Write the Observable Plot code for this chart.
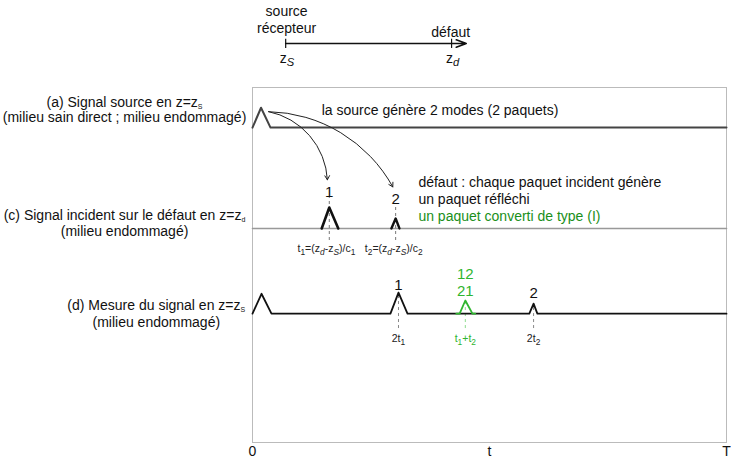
<!DOCTYPE html>
<html><head><meta charset="utf-8">
<script src="https://cdn.jsdelivr.net/npm/d3@7"></script>
<script src="https://cdn.jsdelivr.net/npm/@observablehq/plot@0.6"></script>
<style>body{margin:0;background:#fff} svg{display:block}</style>
</head><body><div id="chart"></div>
<script>
// Time axis: 0..100 stands for 0..T
const timeTicks = [0, 50, 100];
const timeTickLabels = ["0", "t", "T"];

// (a) source signal at z = zS
const srcTimes = [0, 1.8, 3.8, 100];
const srcAmps  = [0, 5.6, 0, 0];

// (c) incident signal at the defect z = zd
const incBaseTimes = [0, 100];
const inc1Times = [14.6, 16.2, 18.1];
const inc1Amps  = [0, 5.9, 0];
const inc2Times = [29.3, 30.2, 31.0];
const inc2Amps  = [0, 2.8, 0];

// (d) measured signal at z = zS
const measTimes = [0, 1.9, 4.0, 29.1, 30.8, 32.7, 58.4, 59.3, 60.1, 100];
const measAmps  = [0, 5.6, 0, 0, 5.9, 0, 0, 2.8, 0, 0];
const convTimes = [43.0, 43.7, 44.9, 46.4, 47.0];
const convAmps  = [0, 0, 3.7, 0, 0];

// characteristic times (arrival of packets)
const incPeakTimes = [16.2, 30.2];
const incPeakNames = ["1", "2"];
const measPeakTimes = [30.8, 59.3];
const measPeakNames = ["1", "2"];
const convPeakTime = 44.9;

// row baselines (vertical layout, in plot units)
const baseA = 88.7, baseC = 60.3, baseD = 36.3;

const pts = (ts, vs, b) => ts.map((t, i) => ({t, v: b + (vs ? vs[i] : 0)}));

const green = "#2fb52f";
const font = "'Liberation Sans', Arial, Helvetica, sans-serif";

const plot = Plot.plot({
  width: 731, height: 461,
  marginLeft: 252, marginRight: 5, marginTop: 87, marginBottom: 19,
  style: {fontFamily: font, fontSize: "14px", background: "#fff", color: "#111"},
  x: {domain: [0, 100], ticks: timeTicks, tickFormat: d => timeTickLabels[timeTicks.indexOf(d)], tickSize: 0, tickPadding: 4, label: null},
  y: {domain: [0, 100], axis: null},
  marks: [
    Plot.frame({stroke: "#bbb"}),
    // top z axis diagram
    Plot.arrow([{x1: 7.0, y1: 112.4, x2: 45.1, y2: 112.4}], {x1: "x1", y1: "y1", x2: "x2", y2: "y2", stroke: "#111", strokeWidth: 1.6, headLength: 10, headAngle: 40}),
    Plot.ruleX([7.0, 42.0], {x: d => d, y1: 111.0, y2: 113.6, stroke: "#111", strokeWidth: 1.2}),
    Plot.text(["source"], {x: 7.2, y: 121.5, text: d => d, fill: "#111"}),
    Plot.text(["récepteur"], {x: 7.2, y: 116.6, text: d => d, fill: "#111"}),
    Plot.text(["défaut"], {x: 41.8, y: 115.5, text: d => d, fill: "#111"}),
    Plot.text(["z_{*S*}"], {x: 7.3, y: 108.3, text: d => d, fill: "#111"}),
    Plot.text(["z_{*d*}"], {x: 42.2, y: 108.3, text: d => d, fill: "#111"}),

    // row (a)
    Plot.line(pts(srcTimes, srcAmps, baseA), {x: "t", y: "v", stroke: "#444", strokeWidth: 2}),
    Plot.text(["la source génère 2 modes (2 paquets)"], {x: 14.6, y: 93.6, text: d => d, textAnchor: "start", fill: "#111"}),
    Plot.arrow([{x1: 3.4, y1: 93.2, x2: 15.8, y2: 74.0}], {x1: "x1", y1: "y1", x2: "x2", y2: "y2", bend: 38, stroke: "#222", strokeWidth: 1, headLength: 7}),
    Plot.arrow([{x1: 3.4, y1: 93.2, x2: 29.6, y2: 72.0}], {x1: "x1", y1: "y1", x2: "x2", y2: "y2", bend: 30, stroke: "#222", strokeWidth: 1, headLength: 7}),

    // row (c)
    Plot.line(pts(incBaseTimes, null, baseC), {x: "t", y: "v", stroke: "#999", strokeWidth: 1.6}),
    Plot.ruleX(incPeakTimes, {x: d => d, y1: 56.9, y2: (d, i) => [69.0, 66.2][i], stroke: "#777", strokeDasharray: "3,3", strokeWidth: 1}),
    Plot.line(pts(inc1Times, inc1Amps, baseC), {x: "t", y: "v", stroke: "#111", strokeWidth: 2.6}),
    Plot.line(pts(inc2Times, inc2Amps, baseC), {x: "t", y: "v", stroke: "#111", strokeWidth: 2.4}),
    Plot.text(incPeakNames, {x: (d, i) => incPeakTimes[i], y: (d, i) => [70.6, 68.4][i], text: d => d, fill: "#111", fontSize: 15}),
    Plot.text(["t_{1}=(z_{*d*}-z_{*S*})/c_{1}", "t_{2}=(z_{*d*}-z_{*S*})/c_{2}"], {x: [15.6, 29.8], y: 54.6, text: d => d, fill: "#222", fontSize: 10.5}),
    Plot.text(["défaut : chaque paquet incident génère"], {x: 35.0, y: 73.2, text: d => d, textAnchor: "start", fill: "#111"}),
    Plot.text(["un paquet réfléchi"], {x: 35.0, y: 68.5, text: d => d, textAnchor: "start", fill: "#111"}),
    Plot.text(["un paquet converti de type (I)"], {x: 35.0, y: 63.7, text: d => d, textAnchor: "start", fill: "#1a8f1a"}),

    // row (d)
    Plot.ruleX(measPeakTimes, {x: d => d, y1: 32.1, y2: (d, i) => [42.3, 38.9][i], stroke: "#888", strokeDasharray: "3,3", strokeWidth: 1}),
    Plot.ruleX([convPeakTime], {x: d => d, y1: 32.1, y2: 40, stroke: "#8fdc8f", strokeDasharray: "3,3", strokeWidth: 1}),
    Plot.line(pts(measTimes, measAmps, baseD), {x: "t", y: "v", stroke: "#111", strokeWidth: 1.8}),
    Plot.line(pts(convTimes, convAmps, baseD), {x: "t", y: "v", stroke: green, strokeWidth: 1.8}),
    Plot.text(measPeakNames, {x: (d, i) => measPeakTimes[i], y: (d, i) => [44.4, 42.0][i], text: d => d, fill: "#111", fontSize: 15}),
    Plot.text(["12"], {x: convPeakTime, y: 47.4, text: d => d, fill: green, fontSize: 15}),
    Plot.text(["21"], {x: convPeakTime, y: 42.6, text: d => d, fill: green, fontSize: 15}),
    Plot.text(["2t_{1}", "2t_{2}"], {x: measPeakTimes, y: 29.3, text: d => d, fill: "#222", fontSize: 10.5}),
    Plot.text(["t_{1}+t_{2}"], {x: convPeakTime, y: 29.3, text: d => d, fill: green, fontSize: 10.5}),

    // row labels
    Plot.text(["(a) Signal source en z=z_{S}"], {x: -27.0, y: 95.8, text: d => d, fill: "#111", className: "subsmall"}),
    Plot.text(["(milieu sain direct ; milieu endommagé)"], {x: -27.0, y: 91.5, text: d => d, fill: "#111"}),
    Plot.text(["(c) Signal incident sur le défaut en z=z_{d}"], {x: -27.0, y: 63.9, text: d => d, fill: "#111", className: "subsmall"}),
    Plot.text(["(milieu endommagé)"], {x: -27.0, y: 59.4, text: d => d, fill: "#111"}),
    Plot.text(["(d) Mesure du signal en z=z_{S}"], {x: -20.3, y: 38.6, text: d => d, fill: "#111", className: "subsmall"}),
    Plot.text(["(milieu endommagé)"], {x: -20.3, y: 33.8, text: d => d, fill: "#111"})
  ]
});

document.getElementById("chart").appendChild(plot);

// turn _{...} into subscripts and *...* into italics
function richify(root) {
  const NS = "http://www.w3.org/2000/svg";
  root.querySelectorAll("text").forEach(t => {
    const s = t.textContent;
    if (!/_\{|\*/.test(s)) return;
    const fs = parseFloat(getComputedStyle(t).fontSize) || 14;
    const small = t.closest(".subsmall");
    const r = small ? 0.5 : 0.8;
    const shift = fs * (small ? 0.15 : 0.28);
    t.textContent = "";
    let lowered = false;
    const add = (str, sub) => {
      str.split(/(\*[^*]*\*)/).forEach(part => {
        if (!part) return;
        const ts = document.createElementNS(NS, "tspan");
        let txt = part, it = false;
        if (part.length > 1 && part[0] === "*" && part[part.length - 1] === "*") { txt = part.slice(1, -1); it = true; }
        ts.textContent = txt;
        if (it) ts.setAttribute("font-style", "italic");
        if (sub) {
          ts.setAttribute("font-size", (fs * r).toFixed(2));
          if (!lowered) { ts.setAttribute("dy", shift.toFixed(2)); lowered = true; }
        } else if (lowered) { ts.setAttribute("dy", (-shift).toFixed(2)); lowered = false; }
        t.appendChild(ts);
      });
    };
    const re = /_\{([^}]*)\}/g;
    let last = 0, m;
    while ((m = re.exec(s))) { add(s.slice(last, m.index), false); add(m[1], true); last = re.lastIndex; }
    add(s.slice(last), false);
  });
}
richify(plot);
</script></body></html>
